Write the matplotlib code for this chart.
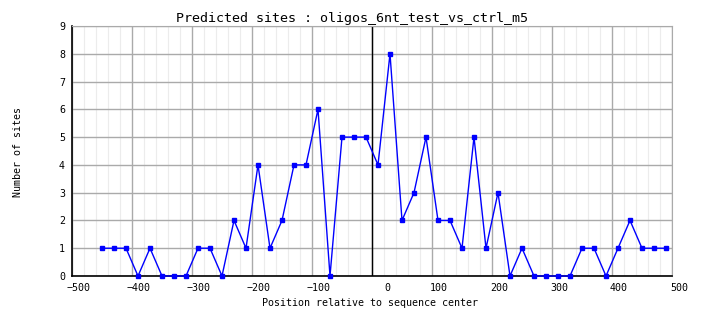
import numpy as np
import matplotlib
matplotlib.use("Agg")
import matplotlib.pyplot as plt
from matplotlib.transforms import ScaledTranslation

# bin centers (20 nt bins) and site counts per bin
positions = [-450, -430, -410, -390, -370, -350, -330, -310, -290, -270,
             -250, -230, -210, -190, -170, -150, -130, -110, -90, -70,
             -50, -30, -10, 10, 30, 50, 70, 90, 110, 130,
             150, 170, 190, 210, 230, 250, 270, 290, 310, 330,
             350, 370, 390, 410, 430, 450, 470, 490]
sites = [1, 1, 1, 0, 1, 0, 0, 0, 1, 1,
         0, 2, 1, 4, 1, 2, 4, 4, 6, 0,
         5, 5, 5, 4, 8, 2, 3, 5, 2, 2,
         1, 5, 1, 3, 0, 1, 0, 0, 0, 0,
         1, 1, 0, 1, 2, 1, 1, 1]
xticks = [-500, -400, -300, -200, -100, 0, 100, 200, 300, 400, 500]
yticks = [0, 1, 2, 3, 4, 5, 6, 7, 8, 9]

title = "Predicted sites : oligos_6nt_test_vs_ctrl_m5"
mono = "DejaVu Sans Mono"

W, H = 704, 328
fig = plt.figure(figsize=(W / 100, H / 100), dpi=100)
ax = fig.add_axes([72 / W, 1 - 276 / H, 600 / W, 250 / H])

ax.set_xlim(-500, 500)
ax.set_ylim(0, 9)
ax.set_xticks(xticks)
ax.set_yticks(yticks)
ax.set_xticks(np.arange(-500, 501, 20), minor=True)

ax.grid(True, which="minor", axis="x", color="#ececec", lw=0.8)
ax.grid(True, which="major", color="#aaaaaa", lw=1.0)
ax.set_axisbelow(True)

ax.axvline(0, color="black", lw=1.0, zorder=2)
ax.plot(positions, sites, color="#0000ff", lw=1.0, marker="s", ms=2.4,
        mec="#0000ff", mfc="#0000ff", zorder=3, clip_on=False)

for side in ["top", "right"]:
    ax.spines[side].set_color("#aaaaaa")
for side in ["left", "bottom"]:
    ax.spines[side].set_color("black")
    ax.spines[side].set_linewidth(1.2)

ax.tick_params(which="both", length=0)
ax.tick_params(axis="x", pad=5)
ax.tick_params(axis="y", pad=5)
for lab in ax.get_xticklabels() + ax.get_yticklabels():
    lab.set_fontfamily(mono)
    lab.set_fontsize(7.2)

# labels sit a little right of their grid line
for val, lab in zip(xticks, ax.get_xticklabels()):
    dx = 15 if val == 0 else 7
    lab.set_transform(lab.get_transform() + ScaledTranslation(dx / 100, 0, fig.dpi_scale_trans))

fig.text(352 / W, 1 - 18.5 / H, title, ha="center", va="center",
         family=mono, fontsize=9.6)
fig.text(370 / W, 1 - 303 / H, "Position relative to sequence center",
         ha="center", va="center", family=mono, fontsize=7.2)
fig.text(18 / W, 1 - 152 / H, "Number of sites", rotation=90,
         ha="center", va="center", family=mono, fontsize=7.2)

fig.savefig("out.png", dpi=100, facecolor="white")
